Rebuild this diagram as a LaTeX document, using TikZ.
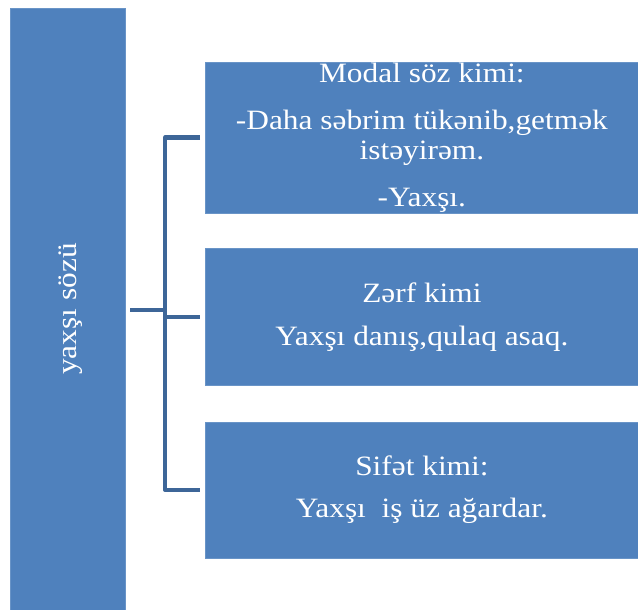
\documentclass[tikz,border=0pt]{standalone}
\usepackage{fontspec}
\setmainfont{Liberation Serif}[FakeStretch=1.12]
\usetikzlibrary{positioning}
\definecolor{boxblue}{HTML}{4F81BD}
\definecolor{linkblue}{HTML}{3D6698}
\tikzset{
    bar/.style={fill=boxblue, draw=boxblue!85!white, minimum width=115pt, minimum height=602pt, inner sep=0pt},
    box/.style={fill=boxblue, draw=boxblue!85!white, minimum width=433pt, inner sep=0pt,
        text=white, align=center, font=\fontsize{28}{30}\selectfont},
    bracket/.style={draw=linkblue, line width=4pt, line join=round}
}

\begin{document}
\begin{tikzpicture}[x=1pt, y=-1pt]
    \useasboundingbox (0,0) rectangle (638,610);
    % left bar
    \node [bar] (word) at (67.5,309) {};
    \node [rotate=90, text=white, font=\fontsize{28}{30}\selectfont] (word_text) at ([xshift=3pt]word.center) {yaxşı sözü};

    % the three uses
    \node [box, minimum height=151pt, below right=54pt and 80pt of word.north east] (modal)
        {Modal söz kimi:\\[17pt] -Daha səbrim tükənib,getmək\\ istəyirəm.\\[17pt] -Yaxşı.};
    \node [box, minimum height=137pt, below=35pt of modal] (zerf)
        {Zərf kimi\\[13pt] Yaxşı danış,qulaq asaq.};
    \node [box, minimum height=136pt, below=36pt of zerf] (sifet)
        {Sifət kimi:\\[12pt] Yaxşı\ \ iş üz ağardar.};

    % bracket
    \coordinate (fork) at (165,310);
    \draw [bracket, shorten <=5pt, shorten >=5pt] (modal.west) -| (fork) |- (sifet.west);
    \draw [bracket, shorten >=5pt] (fork |- zerf.west) -- (zerf.west);
    \draw [bracket, shorten <=5pt] (word.east |- fork) -- (fork);
\end{tikzpicture}
\end{document}
